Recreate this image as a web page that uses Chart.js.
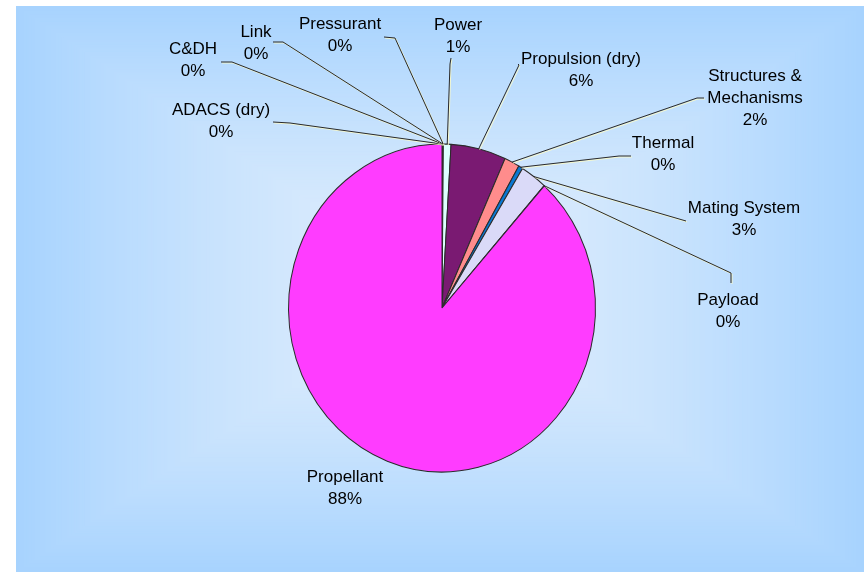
<!DOCTYPE html>
<html>
<head>
<meta charset="utf-8">
<script src="https://cdn.jsdelivr.net/npm/chart.js@4.4.1/dist/chart.umd.min.js"></script>
<style>
  html, body { margin: 0; padding: 0; background: #fff; }
  canvas { display: block; }
</style>
</head>
<body>
<canvas id="massPie" width="864" height="573"></canvas>
<script>
// mass breakdown, percent of total
const categories = ['ADACS (dry)', 'C&DH', 'Link', 'Pressurant', 'Power', 'Propulsion (dry)',
  'Structures &\nMechanisms', 'Thermal', 'Mating System', 'Payload', 'Propellant'];
const massShare = [0.04, 0.04, 0.03, 0.03, 0.8, 5.8, 1.6, 0.45, 2.8, 0.02, 88.39];
const sliceColors = ['#9999ff', '#993366', '#ffffcc', '#ffcc99', '#ddffff', '#7a1a72',
  '#ff8c8c', '#0a78d2', '#dadaf8', '#000080', '#ff3cff'];

// where each label sits (centre of first line) and the leader elbow near it
const labelSpots = [
  { x: 221, y: 110, from: [273, 122], bend: [290, 123] },
  { x: 193, y: 49,  from: [221, 62],  bend: [232, 62] },
  { x: 256, y: 32,  from: [273, 42],  bend: [283, 42] },
  { x: 340, y: 24,  from: [384, 37],  bend: [395, 38] },
  { x: 458, y: 25,  from: [451, 58],  bend: [450, 64] },
  { x: 581, y: 59,  from: [518, 64],  bend: [519, 65] },
  { x: 755, y: 76,  from: [704, 98],  bend: [697, 98] },
  { x: 663, y: 143, from: [631, 156], bend: [619, 156] },
  { x: 744, y: 208, from: [686, 221], bend: [686, 221] },
  { x: 728, y: 300, from: [731, 283], bend: [731, 273] },
  { x: 345, y: 477 }
];

const stretchY = 1.068;   // pie is drawn a little taller than wide
const lineGap = 22;
const labelFont = '17px "Liberation Sans", Arial, sans-serif';

// rectangular "from centre" gradient behind the plot
const backdrop = {
  id: 'backdrop',
  beforeDraw(chart) {
    const ctx = chart.ctx;
    ctx.save();
    ctx.fillStyle = '#ffffff';
    ctx.fillRect(0, 0, chart.width, chart.height);
    const left = 16, top = 6, right = 864, bottom = 572;
    const cx = (left + right) / 2, cy = (top + bottom) / 2;
    const hw = (right - left) / 2, hh = (bottom - top) / 2;
    const inner = [222, 237, 253], outer = [167, 211, 254];
    const steps = 160;
    for (let i = steps; i >= 1; i--) {
      const t = i / steps;
      const e = Math.pow(t, 1.5);
      const c = inner.map((v, k) => Math.round(v + (outer[k] - v) * e));
      ctx.fillStyle = `rgb(${c[0]},${c[1]},${c[2]})`;
      ctx.fillRect(cx - hw * t, cy - hh * t, hw * t * 2, hh * t * 2);
    }
    ctx.restore();
  }
};

const squash = {
  id: 'squash',
  beforeDatasetsDraw(chart) {
    const arc = chart.getDatasetMeta(0).data[0];
    const ctx = chart.ctx;
    ctx.save();
    ctx.translate(arc.x, arc.y);
    ctx.scale(1, stretchY);
    ctx.translate(-arc.x, -arc.y);
  },
  afterDatasetsDraw(chart) {
    chart.ctx.restore();
  }
};

const pieLabels = {
  id: 'pieLabels',
  afterDraw(chart) {
    const ctx = chart.ctx;
    const arcs = chart.getDatasetMeta(0).data;
    const total = massShare.reduce((a, b) => a + b, 0);
    ctx.save();
    arcs.forEach((arc, i) => {
      const spot = labelSpots[i];
      if (!spot.from) return;
      const mid = (arc.startAngle + arc.endAngle) / 2;
      const px = arc.x + Math.cos(mid) * arc.outerRadius;
      const py = arc.y + Math.sin(mid) * arc.outerRadius * stretchY;
      const pts = [spot.from, spot.bend, [px, py]];
      // pale halo, then the dark leader
      [['rgba(250,250,200,0.9)', 1], ['#2a2a2a', 0]].forEach(([col, off]) => {
        ctx.strokeStyle = col;
        ctx.lineWidth = 1;
        ctx.beginPath();
        ctx.moveTo(pts[0][0] + off, pts[0][1] + off);
        ctx.lineTo(pts[1][0] + off, pts[1][1] + off);
        ctx.lineTo(pts[2][0] + off, pts[2][1] + off);
        ctx.stroke();
      });
    });
    ctx.font = labelFont;
    ctx.fillStyle = '#000000';
    ctx.textAlign = 'center';
    ctx.textBaseline = 'middle';
    categories.forEach((name, i) => {
      const spot = labelSpots[i];
      const lines = name.split('\n');
      lines.push(Math.round(massShare[i] / total * 100) + '%');
      lines.forEach((txt, k) => ctx.fillText(txt, spot.x, spot.y + k * lineGap));
    });
    ctx.restore();
  }
};

new Chart(document.getElementById('massPie'), {
  type: 'pie',
  data: {
    labels: categories,
    datasets: [{
      data: massShare,
      backgroundColor: sliceColors,
      borderColor: '#2b2b2b',
      borderWidth: 1
    }]
  },
  options: {
    responsive: false,
    animation: false,
    layout: { padding: { left: 200, right: 180, top: 154, bottom: 111 } },
    plugins: {
      legend: { display: false },
      tooltip: { enabled: false }
    }
  },
  plugins: [backdrop, squash, pieLabels]
});
</script>
</body>
</html>
